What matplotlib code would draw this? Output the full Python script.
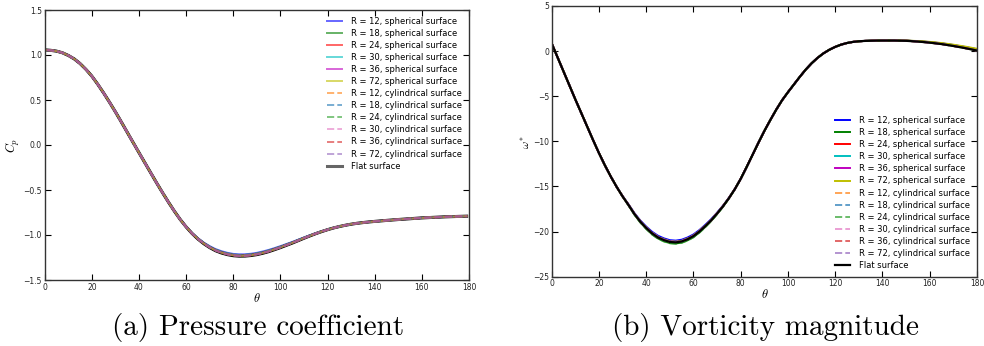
import matplotlib
matplotlib.use("Agg")
import matplotlib.pyplot as plt
import numpy as np

plt.rcParams['mathtext.fontset'] = 'cm'
plt.rcParams['font.family'] = ['DejaVu Sans']

# ---------------- data ----------------
theta_cp = [1, 2.5, 5, 7.5, 10, 12.5, 15, 17.5, 20, 22.5, 25, 27.5, 30, 32.5, 35,
            37.5, 40, 42.5, 45, 47.5, 50, 52.5, 55, 57.5, 60, 62.5, 65, 67.5,
            70, 72.5, 75, 77.5, 80, 82.5, 85, 87.5, 90, 92.5, 95, 97.5, 100,
            102.5, 105, 107.5, 110, 112.5, 115, 117.5, 120, 122.5, 125, 127.5,
            130, 132.5, 135, 137.5, 140, 145, 150, 155, 160, 165, 170, 175, 179]
cp_flat = [1.055, 1.052, 1.043, 1.025, 0.995, 0.957, 0.905, 0.840, 0.765, 0.675,
           0.578, 0.475, 0.368, 0.256, 0.142, 0.028, -0.085, -0.198, -0.310,
           -0.422, -0.530, -0.635, -0.735, -0.828, -0.910, -0.983, -1.045,
           -1.097, -1.140, -1.175, -1.200, -1.218, -1.230, -1.235, -1.234,
           -1.228, -1.218, -1.203, -1.185, -1.163, -1.140, -1.115, -1.090,
           -1.063, -1.036, -1.010, -0.985, -0.962, -0.941, -0.922, -0.906,
           -0.892, -0.880, -0.870, -0.862, -0.855, -0.849, -0.838, -0.828,
           -0.819, -0.810, -0.804, -0.798, -0.794, -0.791]

theta_w = [0, 2.5, 5, 7.5, 10, 12.5, 15, 17.5, 20, 22.5, 25, 27.5, 30, 32.5, 35,
           37.5, 40, 42.5, 45, 47.5, 50, 52.5, 55, 57.5, 60, 62.5, 65, 67.5,
           70, 72.5, 75, 77.5, 80, 82.5, 85, 87.5, 90, 92.5, 95, 97.5, 100,
           102.5, 105, 107.5, 110, 112.5, 115, 117.5, 120, 122.5, 125, 127.5,
           130, 132.5, 135, 137.5, 140, 145, 150, 155, 160, 165, 170, 175, 180]
w_flat = [0.85, -0.7, -2.25, -3.8, -5.35, -6.85, -8.35, -9.85, -11.3, -12.65,
          -13.9, -15.05, -16.1, -17.05, -18.05, -18.9, -19.6, -20.2, -20.65,
          -20.95, -21.15, -21.2, -21.1, -20.85, -20.5, -20.0, -19.4, -18.75,
          -18.0, -17.2, -16.3, -15.3, -14.15, -12.85, -11.5, -10.15, -8.85,
          -7.65, -6.5, -5.45, -4.55, -3.7, -2.85, -2.05, -1.35, -0.75, -0.25,
          0.15, 0.47, 0.72, 0.9, 1.02, 1.09, 1.13, 1.15, 1.165, 1.17, 1.17,
          1.14, 1.06, 0.94, 0.78, 0.57, 0.33, 0.06]

labels_sph = ["R = 12, spherical surface", "R = 18, spherical surface",
              "R = 24, spherical surface", "R = 30, spherical surface",
              "R = 36, spherical surface", "R = 72, spherical surface"]
labels_cyl = ["R = 12, cylindrical surface", "R = 18, cylindrical surface",
              "R = 24, cylindrical surface", "R = 30, cylindrical surface",
              "R = 36, cylindrical surface", "R = 72, cylindrical surface"]
label_flat = "Flat surface"

# small deviations from the flat-surface curve read at the extrema / right end
cp_shift_sph = [0.02, 0.012, 0.008, 0.006, 0.005, 0.003]
cp_shift_cyl = [0.01, 0.015, 0.006, 0.004, 0.003, 0.002]
w_shift_sph = [0.2, -0.12, 0.05, 0.04, 0.03, 0.02]
w_shift_cyl = [0.1, 0.08, -0.15, 0.05, 0.04, 0.03]
w_end_sph = [0.15, 0.12, 0.1, 0.08, 0.06, 0.2]

colors_sph = ['#0000ff', '#008000', '#ff0000', '#00bfbf', '#bf00bf', '#bfbf00']
colors_cyl = ['#ff7f0e', '#1f77b4', '#2ca02c', '#e377c2', '#d62728', '#9467bd']

W, H = 984, 346
fig = plt.figure(figsize=(W / 100, H / 100), dpi=100)

def px_axes(x0, x1, y0, y1):
    return fig.add_axes([x0 / W, 1 - y1 / H, (x1 - x0) / W, (y1 - y0) / H])

ax1 = px_axes(44.7, 469, 10, 280)
ax2 = px_axes(551.7, 977, 6, 276.7)

thc = np.array(theta_cp)
thw = np.array(theta_w)
cpf = np.array(cp_flat)
wf = np.array(w_flat)

# weights that confine the deviations to where they are seen
cp_wt = np.clip((-cpf - 0.9) / 0.3, 0, 1)
w_wt = np.clip((-wf - 15) / 6, 0, 1)
end_wt = np.clip((thw - 145) / 35, 0, 1)

# ---- panel a ----
ax1.plot(thc, cpf, color='black', lw=2.2, zorder=1)
for lab, c, s in zip(labels_sph, colors_sph, cp_shift_sph):
    ax1.plot(thc, cpf + s * cp_wt, color=c, lw=1.4, alpha=0.6, label=lab, zorder=2)
for lab, c, s in zip(labels_cyl, colors_cyl, cp_shift_cyl):
    ax1.plot(thc, cpf + s * cp_wt, color=c, lw=1.4, ls='--', alpha=0.6, label=lab, zorder=2)
ax1.plot([], [], color='black', lw=2.2, alpha=0.6, label=label_flat)

# ---- panel b ----
for lab, c, s, e in zip(labels_sph, colors_sph, w_shift_sph, w_end_sph):
    ax2.plot(thw, wf + s * w_wt + e * end_wt, color=c, lw=1.4, label=lab)
for lab, c, s in zip(labels_cyl, colors_cyl, w_shift_cyl):
    ax2.plot(thw, wf + s * w_wt, color=c, lw=1.4, ls='--', alpha=0.7, label=lab)
ax2.plot(thw, wf, color='black', lw=1.6, label=label_flat)

for ax in (ax1, ax2):
    ax.set_xlim(0, 180)
    ax.set_xticks(range(0, 181, 20))
    ax.tick_params(direction='in', top=True, right=True, labelsize=5.5,
                   length=4, width=0.8, pad=2, labelcolor='#222222')
    for sp in ax.spines.values():
        sp.set_linewidth(1.0)
        sp.set_color('#333333')
    ax.set_xlabel(r'$\theta$', fontsize=9, labelpad=0)

ax1.set_ylim(-1.5, 1.5)
ax1.set_yticks([-1.5, -1.0, -0.5, 0.0, 0.5, 1.0, 1.5])
ax1.set_ylabel(r'$C_p$', fontsize=9, labelpad=1)
ax2.set_ylim(-25, 5)
ax2.set_yticks(range(-25, 6, 5))
ax2.set_ylabel(r'$\omega^*$', fontsize=8, labelpad=1)

leg_kw = dict(frameon=False, fontsize=6.0, handlelength=1.8, handletextpad=1.1,
              labelspacing=0.37, borderaxespad=0.4)
ax1.legend(loc='upper right', bbox_to_anchor=(1.0, 1.0), **leg_kw)
ax2.legend(loc='lower right', bbox_to_anchor=(1.0, 0.0), **leg_kw)

fig.text(258 / W, 1 - 327 / H, '(a) Pressure coefficient', family='cmr10',
         fontsize=21, ha='center', va='center')
fig.text(765 / W, 1 - 327 / H, '(b) Vorticity magnitude', family='cmr10',
         fontsize=21, ha='center', va='center')

fig.savefig('out.png', dpi=100)
